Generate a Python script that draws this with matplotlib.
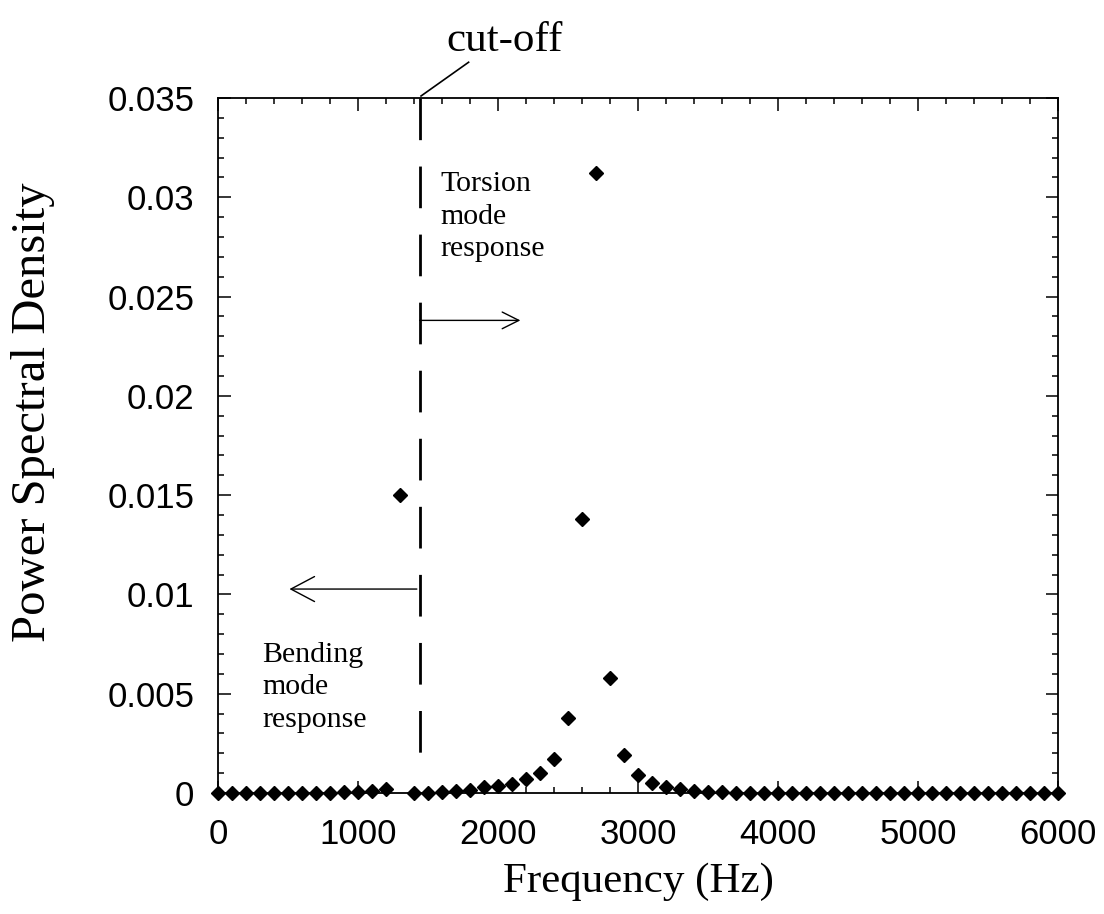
import numpy as np
import matplotlib
matplotlib.use('Agg')
import matplotlib.pyplot as plt
from matplotlib.ticker import MultipleLocator

# Frequência (Hz) e densidade espectral
freq = [0, 100, 200, 300, 400, 500, 600, 700, 800, 900,
        1000, 1100, 1200, 1300, 1400, 1500, 1600, 1700, 1800, 1900,
        2000, 2100, 2200, 2300, 2400, 2500, 2600, 2700, 2800, 2900,
        3000, 3100, 3200, 3300, 3400, 3500, 3600, 3700, 3800, 3900,
        4000, 4100, 4200, 4300, 4400, 4500, 4600, 4700, 4800, 4900,
        5000, 5100, 5200, 5300, 5400, 5500, 5600, 5700, 5800, 5900, 6000]
psd = [0.00001, 0.00001, 0.00001, 0.00001, 0.00001, 0.00001, 0.00001, 0.00001, 0.00002, 0.00003,
       0.00005, 0.0001, 0.0002, 0.0150, 0.00001, 0.00002, 0.00005, 0.0001, 0.00015, 0.0003,
       0.00035, 0.00045, 0.0007, 0.0010, 0.0017, 0.0038, 0.0138, 0.0312, 0.0058, 0.0019,
       0.0009, 0.0005, 0.0003, 0.0002, 0.0001, 0.00005, 0.00003, 0.00002, 0.00001, 0.00001,
       0.00001, 0.00001, 0.00001, 0.00001, 0.00001, 0.00001, 0.00001, 0.00001, 0.00001, 0.00001,
       0.00001, 0.00001, 0.00001, 0.00001, 0.00001, 0.00001, 0.00001, 0.00001, 0.00001, 0.00001, 0.00001]

cutoff_hz = 1440
xticks = [0, 1000, 2000, 3000, 4000, 5000, 6000]
yticks = [0, 0.005, 0.01, 0.015, 0.02, 0.025, 0.03, 0.035]
ytick_labels = ['0', '0.005', '0.01', '0.015', '0.02', '0.025', '0.03', '0.035']

serif = 'Liberation Serif'
sans = 'Liberation Sans'

fig = plt.figure(figsize=(11.04, 9.14), dpi=100)
ax = fig.add_axes([0.1975, 0.1324, 0.7608, 0.7604])

ax.plot(freq, psd, linestyle='none', marker='D', markersize=7.3,
        color='black', clip_on=False, zorder=5)

# linha de corte tracejada
ax.plot([cutoff_hz, cutoff_hz], [0.035, 0.0015], color='black', lw=2,
        dashes=(15, 9.5), zorder=3)

ax.set_xlim(0, 6000)
ax.set_ylim(0, 0.035)
ax.set_xticks(xticks)
ax.set_xticklabels([str(t) for t in xticks], fontfamily=sans, fontsize=25)
ax.set_yticks(yticks)
ax.set_yticklabels(ytick_labels, fontfamily=sans, fontsize=25)
ax.xaxis.set_minor_locator(MultipleLocator(200))
ax.yaxis.set_minor_locator(MultipleLocator(0.001))
ax.tick_params(which='both', direction='in', top=True, right=True, width=1.1)
ax.tick_params(which='major', length=9)
ax.tick_params(which='minor', length=4.5)
ax.tick_params(axis='x', which='major', pad=18)
ax.tick_params(axis='y', which='major', pad=17)
for s in ax.spines.values():
    s.set_linewidth(1.3)

ax.set_xlabel('Frequency (Hz)', fontfamily=serif, fontsize=31, labelpad=8)
ax.set_ylabel('Power Spectral Density', fontfamily=serif, fontsize=35)
ax.yaxis.set_label_coords(-0.194, 0.548)

# anotações
ax.text(2050, 0.0379, 'cut-off', fontfamily=serif, fontsize=31,
        ha='center', va='center', clip_on=False)
ax.plot([cutoff_hz + 10, 1790], [0.0351, 0.0368], color='black', lw=1.2, clip_on=False)

ax.text(1586, 0.0313, 'Torsion\nmode\nresponse', fontfamily=serif, fontsize=21.5,
        ha='left', va='top', linespacing=1.32)
ax.text(314, 0.0076, 'Bending\nmode\nresponse', fontfamily=serif, fontsize=21.5,
        ha='left', va='top', linespacing=1.32)

ax.annotate('', xy=(2160, 0.0238), xytext=(cutoff_hz, 0.0238),
            arrowprops=dict(arrowstyle='->,head_length=0.6,head_width=0.3',
                            lw=1.0, color='black', mutation_scale=20,
                            shrinkA=0, shrinkB=0))
ax.annotate('', xy=(510, 0.01027), xytext=(cutoff_hz - 20, 0.01027),
            arrowprops=dict(arrowstyle='->,head_length=0.85,head_width=0.45',
                            lw=1.0, color='black', mutation_scale=20,
                            shrinkA=0, shrinkB=0))

fig.savefig('out.png', dpi=100)
